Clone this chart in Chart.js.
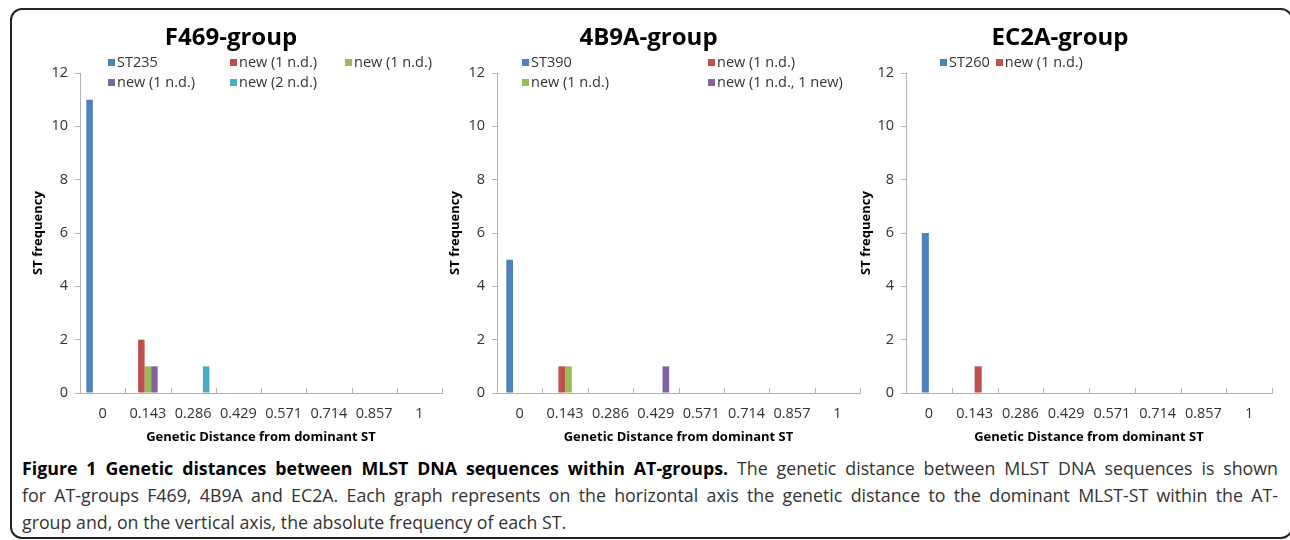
<!DOCTYPE html>
<html>
<head>
<meta charset="utf-8">
<script src="https://cdn.jsdelivr.net/npm/chart.js@4"></script>
<style>
  body { margin: 0; background: #fff; width: 1290px; height: 540px; overflow: hidden; position: relative; font-family: "Open Sans", sans-serif; }
  .frame { position: absolute; left: 10px; top: 8px; width: 1279px; height: 527px; border: 2px solid #222; border-radius: 12px; }
  canvas { position: absolute; top: 10px; }
  .legend { position: absolute; top: 52px; font-size: 14.5px; color: #333; line-height: 20px; }
  .legend .item { white-space: nowrap; }
  .legend .box { display: inline-block; width: 7px; height: 7px; margin-right: 2px; vertical-align: 1px; }
  .caption { position: absolute; left: 22px; top: 455px; width: 1256px; font-size: 17.8px; line-height: 27px; color: #333; }
  .caption div { white-space: nowrap; }
  .caption .j { text-align: justify; text-align-last: justify; }
  .caption b { color: #000; }
</style>
</head>
<body>
<div class="frame"></div>
<canvas id="f469" width="425" height="437" style="left:20px"></canvas>
<canvas id="b9a" width="426" height="437" style="left:437px"></canvas>
<canvas id="ec2a" width="427" height="437" style="left:848px"></canvas>
<div class="legend" id="leg-f469" style="left:108px; display:grid; grid-template-columns:122px 115px auto;"></div>
<div class="legend" id="leg-b9a" style="left:522px; display:grid; grid-template-columns:186px auto;"></div>
<div class="legend" id="leg-ec2a" style="left:940px; display:flex; gap:6px;"></div>
<div class="caption">
  <div class="j"><b>Figure 1 Genetic distances between MLST DNA sequences within AT-groups.</b> The genetic distance between MLST DNA sequences is shown</div>
  <div class="j">for AT-groups F469, 4B9A and EC2A. Each graph represents on the horizontal axis the genetic distance to the dominant MLST-ST within the AT-</div>
  <div>group and, on the vertical axis, the absolute frequency of each ST.</div>
</div>
<script>
// genetic distance categories (x axis)
const distances = ['0', '0.143', '0.286', '0.429', '0.571', '0.714', '0.857', '1'];

// F469-group
const f469Labels = ['ST235', 'new (1 n.d.)', 'new (1 n.d.)', 'new (1 n.d.)', 'new (2 n.d.)'];
const f469St235 = [11, 0, 0, 0, 0, 0, 0, 0];
const f469NewA = [0, 2, 0, 0, 0, 0, 0, 0];
const f469NewB = [0, 1, 0, 0, 0, 0, 0, 0];
const f469NewC = [0, 1, 0, 0, 0, 0, 0, 0];
const f469New2 = [0, 0, 1, 0, 0, 0, 0, 0];

// 4B9A-group
const b9aLabels = ['ST390', 'new (1 n.d.)', 'new (1 n.d.)', 'new (1 n.d., 1 new)'];
const b9aSt390 = [5, 0, 0, 0, 0, 0, 0, 0];
const b9aNewA = [0, 1, 0, 0, 0, 0, 0, 0];
const b9aNewB = [0, 1, 0, 0, 0, 0, 0, 0];
const b9aNewC = [0, 0, 0, 1, 0, 0, 0, 0];

// EC2A-group
const ec2aLabels = ['ST260', 'new (1 n.d.)'];
const ec2aSt260 = [6, 0, 0, 0, 0, 0, 0, 0];
const ec2aNew = [0, 1, 0, 0, 0, 0, 0, 0];

const yTicks = [0, 2, 4, 6, 8, 10, 12];

const colors = ['#4F81BD', '#C0504D', '#9BBB59', '#8064A2', '#4BACC6'];
const axisGray = '#B3B3B3';
const font = '"Open Sans", sans-serif';

//x tick marks point up into the plot like the excel original
const innerTicks = {
    id: 'innerTicks',
    afterDatasetsDraw(chart) {
        let x = chart.scales.x;
        let ctx = chart.ctx;
        ctx.save();
        ctx.strokeStyle = axisGray;
        ctx.lineWidth = 1;
        for (let i = 0; i <= distances.length; i++) {
            let px = Math.round(x.getPixelForDecimal(i / distances.length)) + 0.5;
            ctx.beginPath();
            ctx.moveTo(px, x.top - 5);
            ctx.lineTo(px, x.top);
            ctx.stroke();
        }
        ctx.restore();
    }
};

function makeChart(id, title, labels, series, catPct, yWidth) {
    let datasets = series.map(function (s, i) {
        return {
            label: labels[i],
            data: s,
            backgroundColor: colors[i],
            categoryPercentage: catPct,
            barPercentage: 1
        };
    });

    new Chart(document.getElementById(id), {
        type: 'bar',
        data: { labels: distances, datasets: datasets },
        plugins: [innerTicks],
        options: {
            responsive: false,
            animation: false,
            layout: { padding: { right: 3, bottom: 2 } },
            plugins: {
                legend: { display: false },
                tooltip: { enabled: false },
                title: {
                    display: true,
                    text: title,
                    color: '#000',
                    font: { family: font, size: 24, weight: 'bold' },
                    padding: { top: 13.6, bottom: 20.6 }
                }
            },
            scales: {
                x: {
                    grid: { drawOnChartArea: false, tickLength: 5, tickColor: 'rgba(0,0,0,0)', color: axisGray, offset: true },
                    border: { color: axisGray },
                    ticks: { color: '#333', padding: 7, font: { family: font, size: 14.5 } },
                    title: {
                        display: true,
                        text: 'Genetic Distance from dominant ST',
                        color: '#000',
                        font: { family: font, size: 13, weight: 'bold' },
                        padding: { top: 0, bottom: 0 }
                    }
                },
                y: {
                    min: 0,
                    max: 12,
                    afterBuildTicks: function (scale) {
                        scale.ticks = yTicks.map(v => ({ value: v }));
                    },
                    afterFit: function (scale) {
                        scale.width = yWidth;
                    },
                    grid: { drawOnChartArea: false, tickLength: 5, color: axisGray },
                    border: { color: axisGray },
                    ticks: { color: '#333', padding: 7, font: { family: font, size: 14.5 } },
                    title: {
                        display: true,
                        text: 'ST frequency',
                        color: '#000',
                        font: { family: font, size: 13, weight: 'bold' },
                        padding: { top: 10, bottom: 0 }
                    }
                }
            }
        }
    });

    //legend built from the same labels and colours
    let legend = document.getElementById('leg-' + id);
    labels.forEach(function (l, i) {
        let item = document.createElement('span');
        item.className = 'item';
        item.innerHTML = '<span class="box" style="background:' + colors[i] + '"></span>' + l;
        legend.appendChild(item);
    });
}

makeChart('f469', 'F469-group', f469Labels, [f469St235, f469NewA, f469NewB, f469NewC, f469New2], 0.72, 60);
makeChart('b9a', '4B9A-group', b9aLabels, [b9aSt390, b9aNewA, b9aNewB, b9aNewC], 0.59, 60);
makeChart('ec2a', 'EC2A-group', ec2aLabels, [ec2aSt260, ec2aNew], 0.31, 58);
</script>
</body>
</html>
